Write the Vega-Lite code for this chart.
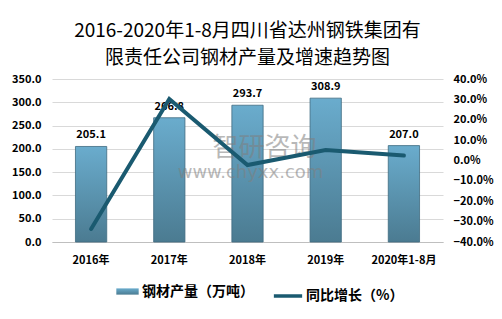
{
  "$schema": "https://vega.github.io/schema/vega-lite/v6.json",
  "width": 391,
  "height": 163,
  "autosize": {"type": "none"},
  "padding": {"left": 52, "top": 79, "right": 59, "bottom": 77},
  "background": "white",
  "title": {
    "text": ["2016-2020年1-8月四川省达州钢铁集团有", "限责任公司钢材产量及增速趋势图"],
    "font": "Noto Sans CJK SC",
    "fontSize": 19,
    "fontWeight": 400,
    "lineHeight": 27,
    "color": "#000000",
    "anchor": "middle",
    "frame": "group",
    "offset": 5
  },
  "data": {
    "values": [
      {"year": "2016年", "value": 205.1, "growth": -0.336},
      {"year": "2017年", "value": 266.8, "growth": 0.302},
      {"year": "2018年", "value": 293.7, "growth": -0.022},
      {"year": "2019年", "value": 308.9, "growth": 0.051},
      {"year": "2020年1-8月", "value": 207.0, "growth": 0.024}
    ]
  },
  "encoding": {
    "x": {
      "field": "year",
      "type": "nominal",
      "sort": null,
      "scale": {"paddingInner": 0.6, "paddingOuter": 0.3},
      "axis": {
        "title": null,
        "labelAngle": 0,
        "labelFont": "Noto Sans CJK SC",
        "labelFontSize": 11,
        "labelFontWeight": "bold",
        "labelColor": "#000000",
        "labelPadding": 12,
        "ticks": false,
        "domainColor": "#bfbfbf"
      }
    }
  },
  "layer": [
    {
      "encoding": {
        "y": {
          "field": "value",
          "type": "quantitative",
          "scale": {"domain": [0, 350]},
          "axis": {
            "title": null,
            "values": [0, 50, 100, 150, 200, 250, 300, 350],
            "format": ".1f",
            "labelOverlap": false,
            "labelFont": "Noto Sans CJK SC",
            "labelFontSize": 11,
            "labelFontWeight": "bold",
            "labelColor": "#000000",
            "labelPadding": 11,
            "ticks": false,
            "domain": false,
            "gridColor": "#d9d9d9"
          }
        }
      },
      "layer": [
        {
          "mark": {
            "type": "bar",
            "stroke": "#3f6b80",
            "strokeWidth": 0.8,
            "fill": {"gradient": "linear", "x1": 0, "y1": 0, "x2": 0, "y2": 1,
                     "stops": [{"offset": 0, "color": "#6aaccd"}, {"offset": 1, "color": "#4b7b91"}]}
          },
          "encoding": {
            "opacity": {
              "datum": "钢材产量（万吨）",
              "scale": {"range": [1]},
              "legend": {
                "orient": "none",
                "legendX": 64,
                "legendY": 201,
                "title": null,
                "symbolType": "M-1,-0.28H1V0.28H-1Z",
                "symbolSize": 500,
                "symbolStrokeWidth": 0,
                "symbolFillColor": "#5b93b0",
                "symbolOpacity": 1,
                "labelFont": "Noto Sans CJK SC",
                "labelFontSize": 14,
                "labelFontWeight": "bold",
                "labelColor": "#000000",
                "labelOffset": 3,
                "labelLimit": 300
              }
            }
          }
        },
        {
          "mark": {"type": "text", "baseline": "bottom", "dy": -6, "font": "Noto Sans CJK SC", "fontSize": 11, "fontWeight": "bold", "color": "#000000"},
          "encoding": {
            "text": {"field": "value", "type": "quantitative", "format": ".1f"}
          }
        },
        {
          "data": {"values": [{"wm": "智研咨询", "year": "2018年", "value": 202}]},
          "mark": {"type": "text", "font": "Noto Sans CJK SC", "fontSize": 26, "color": "#7f7f7f", "opacity": 0.55, "dx": 17},
          "encoding": {
            "text": {"field": "wm"}
          }
        },
        {
          "data": {"values": [{"wm": "www.chyxx.com", "year": "2018年", "value": 148}]},
          "mark": {"type": "text", "font": "DejaVu Sans", "fontSize": 18, "color": "#7f7f7f", "opacity": 0.55, "dx": 3},
          "encoding": {
            "text": {"field": "wm"}
          }
        }
      ]
    },
    {
      "mark": {"type": "line", "strokeWidth": 4, "strokeCap": "round", "strokeJoin": "miter"},
      "encoding": {
        "y": {
          "field": "growth",
          "type": "quantitative",
          "scale": {"domain": [-0.4, 0.4]},
          "axis": {
            "title": null,
            "orient": "right",
            "values": [-0.4, -0.3, -0.2, -0.1, 0, 0.1, 0.2, 0.3, 0.4],
            "format": ".1%",
            "labelOverlap": false,
            "labelFont": "Noto Sans CJK SC",
            "labelFontSize": 11,
            "labelFontWeight": "bold",
            "labelColor": "#000000",
            "labelPadding": 10,
            "ticks": false,
            "domain": false,
            "grid": false
          }
        },
        "stroke": {
          "datum": "同比增长（%）",
          "scale": {"range": ["#1a5a70"]},
          "legend": {
            "orient": "none",
            "legendX": 220,
            "legendY": 201,
            "title": null,
            "symbolType": "stroke",
            "symbolSize": 800,
            "symbolStrokeWidth": 3.5,
            "labelFont": "Noto Sans CJK SC",
            "labelFontSize": 14,
            "labelFontWeight": "bold",
            "labelColor": "#000000",
            "labelOffset": 2,
            "labelLimit": 300
          }
        }
      }
    }
  ],
  "resolve": {"scale": {"y": "independent", "opacity": "independent"}},
  "config": {
    "view": {"stroke": null}
  }
}
